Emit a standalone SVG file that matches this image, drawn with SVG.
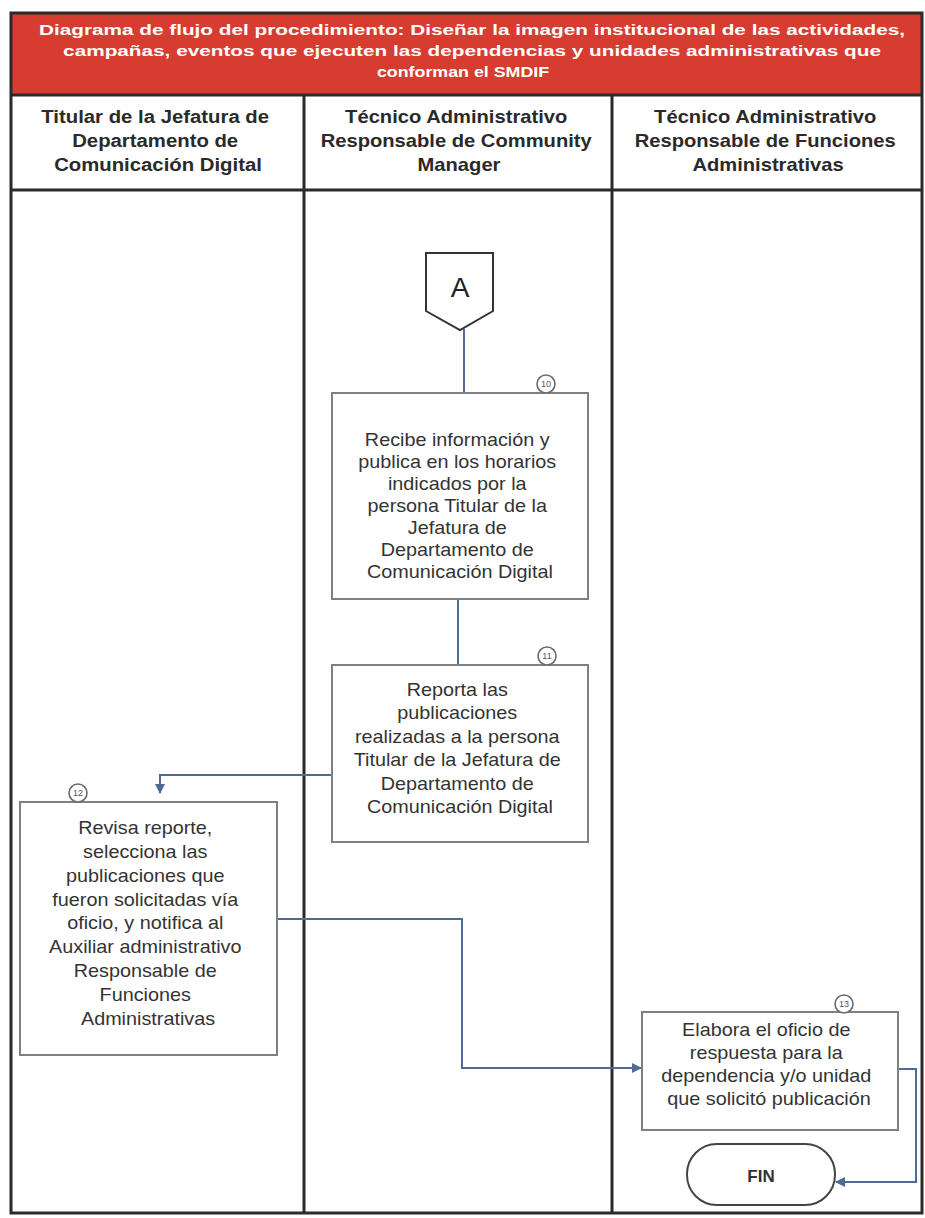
<svg xmlns="http://www.w3.org/2000/svg" width="925" height="1218" viewBox="0 0 925 1218">
  <defs>
    <style>
      .lane { fill: none; stroke: #2a2a2a; stroke-width: 3; }
      .box { fill: #ffffff; stroke: #808080; stroke-width: 2; }
      .body { font-family: "Liberation Sans", Arial, sans-serif; font-size: 18px; fill: #333333; text-anchor: middle; }
      .head { font-family: "Liberation Sans", Arial, sans-serif; font-size: 18px; font-weight: bold; fill: #2a2a2a; text-anchor: middle; }
      .title { font-family: "Liberation Sans", Arial, sans-serif; font-size: 15.5px; font-weight: bold; fill: #ffffff; text-anchor: middle; }
      .step { fill: #ffffff; stroke: #6a6a6a; stroke-width: 1.6; }
      .stepnum { font-family: "Liberation Sans", Arial, sans-serif; font-size: 9px; fill: #555555; text-anchor: middle; }
      .flow { fill: none; stroke: #4d6b96; stroke-width: 2; }
    </style>
    <marker id="arrow" viewBox="0 0 10 10" refX="9" refY="5" markerWidth="5" markerHeight="5" orient="auto">
      <path d="M0,0 L10,5 L0,10 z" fill="#4d6b96"/>
    </marker>
  </defs>

  <rect width="925" height="1218" fill="#ffffff"/>

  <!-- Title band -->
  <g id="title">
    <rect x="11" y="13" width="911" height="82" fill="#d63c2f"/>
    <text class="title" transform="translate(472 0) scale(1.34 1)" x="0" y="35">Diagrama de flujo del procedimiento: Diseñar la imagen institucional de las actividades,</text>
    <text class="title" transform="translate(472 0) scale(1.34 1)" x="0" y="56">campañas, eventos que ejecuten las dependencias y unidades administrativas que</text>
    <text class="title" transform="translate(463 0) scale(1.15 1)" x="0" y="77">conforman el SMDIF</text>
  </g>

  <!-- Swimlanes -->
  <g id="lanes">
    <rect class="lane" x="11" y="13" width="911" height="1200"/>
    <line class="lane" x1="11" y1="95" x2="922" y2="95"/>
    <line class="lane" x1="11" y1="190" x2="922" y2="190"/>
    <line class="lane" x1="304" y1="95" x2="304" y2="1213"/>
    <line class="lane" x1="612" y1="95" x2="612" y2="1213"/>
    <text class="head" transform="translate(158 0) scale(1.13 1)">
      <tspan x="0" y="123">Titular de la Jefatura de</tspan>
      <tspan x="0" y="147">Departamento de</tspan>
      <tspan x="0" y="171">Comunicación Digital</tspan>
    </text>
    <text class="head" transform="translate(459 0) scale(1.12 1)">
      <tspan x="0" y="123">Técnico Administrativo</tspan>
      <tspan x="0" y="147">Responsable de Community</tspan>
      <tspan x="0" y="171">Manager</tspan>
    </text>
    <text class="head" transform="translate(768 0) scale(1.12 1)">
      <tspan x="0" y="123">Técnico Administrativo</tspan>
      <tspan x="0" y="147">Responsable de Funciones</tspan>
      <tspan x="0" y="171">Administrativas</tspan>
    </text>
  </g>

  <!-- Connectors -->
  <g id="connectors">
    <path class="flow" d="M464,329 L464,393"/>
    <path class="flow" d="M458,599 L458,665"/>
    <path class="flow" d="M332,775 L160,775 L160,793" marker-end="url(#arrow)"/>
    <path class="flow" d="M277,919 L462,919 L462,1068 L641,1068" marker-end="url(#arrow)"/>
    <path class="flow" d="M898,1069 L916,1069 L916,1182 L836,1182" marker-end="url(#arrow)"/>
  </g>

  <!-- Off-page connector A -->
  <g id="connector-a">
    <path d="M426,253 L493,253 L493,311 L460,330 L426,311 Z" fill="#ffffff" stroke="#333333" stroke-width="2"/>
    <text x="460" y="297" font-family="Liberation Sans, Arial, sans-serif" font-size="28" fill="#222222" text-anchor="middle">A</text>
  </g>

  <!-- Step 10 -->
  <g id="step-10">
    <rect class="box" x="332" y="393" width="256" height="206"/>
    <circle class="step" cx="546" cy="384" r="9"/>
    <text class="stepnum" x="546" y="387">10</text>
    <text class="body" transform="translate(460 0) scale(1.1 1)">
      <tspan x="0" y="446">Recibe información y</tspan>
      <tspan x="0" y="468">publica en los horarios</tspan>
      <tspan x="0" y="490">indicados por la</tspan>
      <tspan x="0" y="512">persona Titular de la</tspan>
      <tspan x="0" y="534">Jefatura de</tspan>
      <tspan x="0" y="556">Departamento de</tspan>
      <tspan x="0" y="578">Comunicación Digital</tspan>
    </text>
  </g>

  <!-- Step 11 -->
  <g id="step-11">
    <rect class="box" x="332" y="665" width="256" height="177"/>
    <circle class="step" cx="547" cy="656" r="9"/>
    <text class="stepnum" x="547" y="659">11</text>
    <text class="body" transform="translate(460 0) scale(1.1 1)">
      <tspan x="0" y="696">Reporta las</tspan>
      <tspan x="0" y="719">publicaciones</tspan>
      <tspan x="0" y="743">realizadas a la persona</tspan>
      <tspan x="0" y="766">Titular de la Jefatura de</tspan>
      <tspan x="0" y="790">Departamento de</tspan>
      <tspan x="0" y="813">Comunicación Digital</tspan>
    </text>
  </g>

  <!-- Step 12 -->
  <g id="step-12">
    <rect class="box" x="20" y="802" width="257" height="253"/>
    <circle class="step" cx="78" cy="793" r="9"/>
    <text class="stepnum" x="78" y="796">12</text>
    <text class="body" transform="translate(148 0) scale(1.1 1)">
      <tspan x="0" y="834">Revisa reporte,</tspan>
      <tspan x="0" y="858">selecciona las</tspan>
      <tspan x="0" y="882">publicaciones que</tspan>
      <tspan x="0" y="906">fueron solicitadas vía</tspan>
      <tspan x="0" y="929">oficio, y notifica al</tspan>
      <tspan x="0" y="953">Auxiliar administrativo</tspan>
      <tspan x="0" y="977">Responsable de</tspan>
      <tspan x="0" y="1001">Funciones</tspan>
      <tspan x="0" y="1025">Administrativas</tspan>
    </text>
  </g>

  <!-- Step 13 -->
  <g id="step-13">
    <rect class="box" x="642" y="1012" width="256" height="118"/>
    <circle class="step" cx="844" cy="1004" r="9"/>
    <text class="stepnum" x="844" y="1007">13</text>
    <text class="body" transform="translate(769 0) scale(1.1 1)">
      <tspan x="0" y="1036">Elabora el oficio de</tspan>
      <tspan x="0" y="1059">respuesta para la</tspan>
      <tspan x="0" y="1082">dependencia y/o unidad</tspan>
      <tspan x="0" y="1105">que solicitó publicación</tspan>
    </text>
  </g>

  <!-- End -->
  <g id="fin">
    <rect x="687" y="1144" width="148" height="61" rx="30" ry="30" fill="#ffffff" stroke="#444444" stroke-width="2"/>
    <text x="761" y="1182" font-family="Liberation Sans, Arial, sans-serif" font-size="17" font-weight="bold" fill="#333333" text-anchor="middle">FIN</text>
  </g>
</svg>
